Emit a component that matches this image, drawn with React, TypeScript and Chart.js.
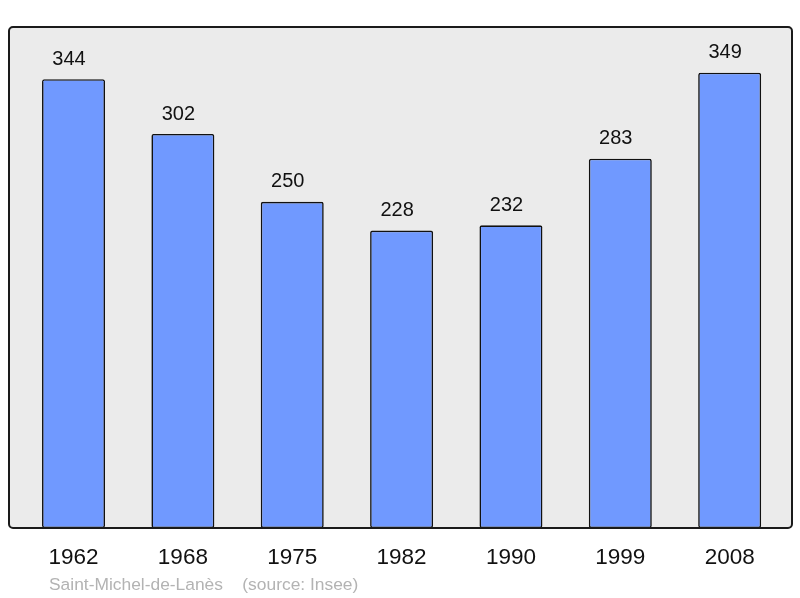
import { useEffect, useRef } from "react"
import { Chart, registerables } from "chart.js"

Chart.register(...registerables)

const years = ["1962", "1968", "1975", "1982", "1990", "1999", "2008"]
const population = [344, 302, 250, 228, 232, 283, 349]
const footerText = "Saint-Michel-de-Lanès    (source: Insee)"

const FONT = "'Liberation Sans', Arial, sans-serif"

// fond gris + cadre arrondi autour de la zone du graphique
const framePlugin = {
  id: "frame",
  beforeDatasetsDraw(chart: Chart) {
    const { ctx, chartArea } = chart
    ctx.save()
    ctx.beginPath()
    ctx.roundRect(chartArea.left, chartArea.top, chartArea.width, chartArea.height, 4)
    ctx.fillStyle = "#ebebeb"
    ctx.fill()
    ctx.restore()
  },
  afterDatasetsDraw(chart: Chart) {
    const { ctx, chartArea } = chart
    ctx.save()
    ctx.beginPath()
    ctx.roundRect(chartArea.left, chartArea.top, chartArea.width, chartArea.height, 4)
    ctx.lineWidth = 2
    ctx.strokeStyle = "#1a1a1a"
    ctx.stroke()

    // valeurs au-dessus des barres (légèrement décalées à gauche comme l'original)
    const meta = chart.getDatasetMeta(0)
    ctx.font = `20px ${FONT}`
    ctx.fillStyle = "#111"
    ctx.textAlign = "center"
    ctx.textBaseline = "middle"
    meta.data.forEach((bar: any, i: number) => {
      ctx.fillText(String(population[i]), bar.x - 4.5, bar.y - 20)
    })

    // source
    ctx.font = `17.4px ${FONT}`
    ctx.fillStyle = "#b3b3b3"
    ctx.textAlign = "left"
    ctx.fillText(footerText, 49, 585)
    ctx.restore()
  },
}

function PopulationChart() {
  const chartRef = useRef<HTMLCanvasElement>(null)
  const chartInstance = useRef<Chart | null>(null)

  useEffect(() => {
    if (!chartRef.current) return
    if (chartInstance.current) chartInstance.current.destroy()
    const ctx = chartRef.current.getContext("2d")
    if (!ctx) return

    chartInstance.current = new Chart(ctx, {
      type: "bar",
      data: {
        datasets: [
          {
            data: years.map((_, i) => ({ x: i, y: population[i] })),
            backgroundColor: "#7099ff",
            borderColor: "#111",
            borderWidth: 1.6,
            borderRadius: 2,
            borderSkipped: false,
            categoryPercentage: 1,
            barPercentage: 0.576,
          },
        ],
      },
      options: {
        responsive: false,
        animation: false,
        layout: { padding: { left: 9, right: 8, top: 27, bottom: 11 } },
        plugins: {
          legend: { display: false },
          tooltip: { enabled: false },
        },
        scales: {
          x: {
            type: "linear",
            offset: false,
            min: -0.59,
            max: 6.57,
            afterBuildTicks: (axis: any) => {
              axis.ticks = years.map((_, i) => ({ value: i }))
            },
            grid: { display: false, drawTicks: false },
            border: { display: false },
            ticks: {
              padding: 16,
              color: "#111",
              font: { family: FONT, size: 22.5 },
              callback: (value: any) => years[value as number] ?? "",
              maxRotation: 0,
              autoSkip: false,
            },
          },
          y: {
            display: false,
            min: 0,
            max: 384,
          },
        },
      },
      plugins: [framePlugin],
    } as any)

    return () => {
      if (chartInstance.current) {
        chartInstance.current.destroy()
        chartInstance.current = null
      }
    }
  }, [])

  return <canvas ref={chartRef} width={800} height={598} />
}

export default function App() {
  return (
    <div style={{ position: "absolute", left: 0, top: 0, width: 800, height: 598, background: "#fff" }}>
      <PopulationChart />
    </div>
  )
}
